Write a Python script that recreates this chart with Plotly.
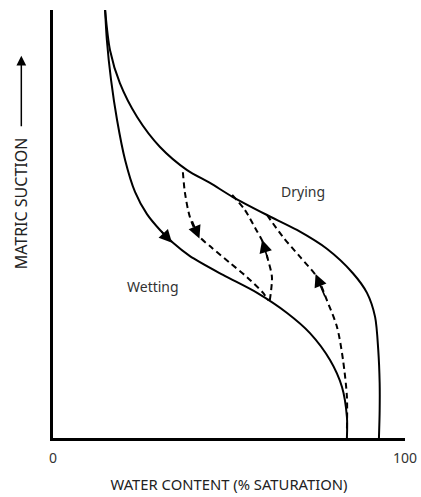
import plotly.graph_objects as go

# Main drying curve (water content %, relative suction)
drying_x = [14.8, 16.2, 19.0, 23.9, 30.4, 38.1, 44.6, 51.1, 60.8, 69.3, 77.8, 85.2, 89.2, 91.5, 92.4, 92.8, 92.8, 92.6]
drying_y = [100, 90.6, 82.9, 75.0, 68.0, 62.6, 59.6, 56.3, 52.1, 48.6, 44.2, 38.5, 33.9, 28.3, 20.6, 12.8, 6.5, 0]

# Main wetting curve
wetting_x = [14.8, 15.3, 16.5, 18.2, 20.5, 23.3, 26.7, 30.4, 34.1, 38.9, 48.3, 58.0, 66.5, 73.0, 78.7, 82.1, 83.5, 83.5]
wetting_y = [100, 93.0, 83.6, 74.3, 64.9, 57.5, 52.3, 48.6, 45.6, 42.5, 38.1, 33.9, 29.2, 24.5, 18.2, 11.9, 4.9, 0]

# Scanning curves (dashed)
scan1_x = [36.9, 37.5, 38.9, 41.2, 45.2, 50.3, 55.1, 59.7, 61.1]
scan1_y = [62.1, 57.2, 51.6, 47.4, 44.4, 40.9, 37.6, 33.9, 32.2]
scan2_x = [61.6, 62.2, 61.1, 59.7, 57.4, 54.5, 50.9]
scan2_y = [32.2, 37.6, 41.6, 45.6, 49.1, 53.3, 56.8]
scan3_x = [60.8, 65.3, 70.2, 75.0, 77.8, 80.7, 82.4, 83.5, 83.5]
scan3_y = [52.1, 47.0, 42.3, 37.6, 32.2, 25.9, 18.2, 9.6, 1.9]

# Direction arrows: tip and tail (data units)
arrow_tip_x = [33.8, 41.6, 59.4, 74.6]
arrow_tip_y = [45.6, 46.6, 46.3, 38.3]
arrow_tail_x = [30.4, 39.4, 61.1, 77.4]
arrow_tail_y = [48.6, 51.0, 41.6, 32.8]

tick_vals = [0, 100]
tick_text = ["0", "100"]

fig = go.Figure()
for xs, ys in [(drying_x, drying_y), (wetting_x, wetting_y)]:
    fig.add_trace(go.Scatter(x=xs, y=ys, mode="lines",
                             line=dict(color="black", width=2, shape="spline", smoothing=0.8),
                             hoverinfo="skip", showlegend=False))
for xs, ys in [(scan1_x, scan1_y), (scan2_x, scan2_y), (scan3_x, scan3_y)]:
    fig.add_trace(go.Scatter(x=xs, y=ys, mode="lines",
                             line=dict(color="black", width=2, dash="6px,4px", shape="spline", smoothing=0.8),
                             hoverinfo="skip", showlegend=False))

for tx, ty, ax, ay in zip(arrow_tip_x, arrow_tip_y, arrow_tail_x, arrow_tail_y):
    fig.add_annotation(x=tx, y=ty, ax=ax, ay=ay, xref="x", yref="y", axref="x", ayref="y",
                       text="", showarrow=True, arrowhead=2, arrowsize=1.6, arrowwidth=1.6,
                       arrowcolor="black", standoff=0, startstandoff=0)

fig.add_annotation(x=71.0, y=57.5, xref="x", yref="y", text="Drying", showarrow=False,
                   font=dict(family="Noto Sans", size=14, color="#333333"))
fig.add_annotation(x=28.4, y=35.3, xref="x", yref="y", text="Wetting", showarrow=False,
                   font=dict(family="Noto Sans", size=14, color="#333333"))

# Y axis title with arrow
fig.add_annotation(x=-0.09, y=0.549, xref="paper", yref="paper", text="MATRIC SUCTION",
                   textangle=-90, showarrow=False, xanchor="center", yanchor="middle",
                   font=dict(family="Noto Sans", size=16, color="#222222"))
fig.add_annotation(x=-0.09, y=0.893, xref="paper", yref="paper", ax=0, ay=72,
                   text="", showarrow=True, arrowhead=2, arrowsize=1.3, arrowwidth=1.5,
                   arrowcolor="black")

fig.update_layout(
    template="none",
    width=421, height=497,
    margin=dict(l=53, r=16, t=10, b=59),
    plot_bgcolor="white", paper_bgcolor="white",
    showlegend=False,
    xaxis=dict(range=[0, 100], showgrid=False, zeroline=False, automargin=False,
               showline=True, linecolor="black", linewidth=2.5,
               tickvals=tick_vals, ticktext=tick_text, ticks="",
               ticklabelstandoff=5,
               tickfont=dict(family="Noto Sans", size=14, color="#333333"),
               title=dict(text="WATER CONTENT (% SATURATION)", standoff=15,
                          font=dict(family="Noto Sans", size=14.8, color="#222222"))),
    yaxis=dict(range=[0, 100], showgrid=False, zeroline=False, automargin=False,
               showline=True, linecolor="black", linewidth=2.5,
               showticklabels=False, ticks=""),
)

fig.write_html("out.html", config={"displayModeBar": False},
               post_script="document.body.style.margin='0';document.body.style.overflow='hidden';")
